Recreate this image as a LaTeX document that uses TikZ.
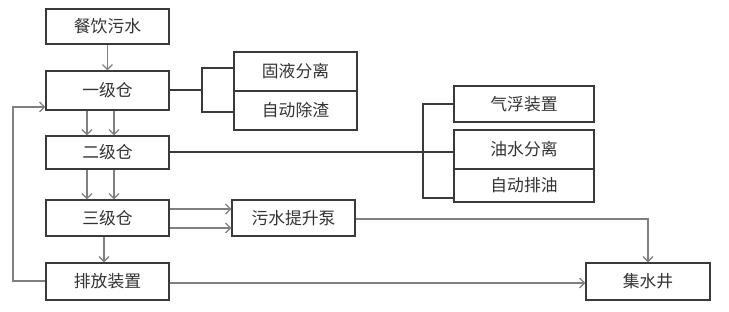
\documentclass[tikz,border=0pt]{standalone}
\usepackage{fontspec}
\setmainfont{Noto Sans CJK SC}
\usetikzlibrary{arrows.meta}
\definecolor{boxc}{HTML}{3A3A3A}
\definecolor{linec}{HTML}{808080}
\definecolor{txt}{HTML}{333333}
\begin{document}
\begin{tikzpicture}[x=1pt,y=-1pt,
  box/.style={draw=boxc,line width=1.2pt,fill=white,text=txt,inner sep=0pt,font=\fontsize{16.8}{16.8}\selectfont},
  conn/.style={draw=linec,line width=1.2pt},
  arr/.style={conn,-{Straight Barb[length=5pt,width=10pt,line width=1.2pt]}}]
\useasboundingbox (0,0) rectangle (729,312);
\fill[white] (0,0) rectangle (729,312);
% boxes
\newcommand{\mybox}[6]{\node[box,minimum width=#4-#2,minimum height=#5-#3] (#1) at ({(#2+#4)/2},{(#3+#5)/2}) {#6};}
\mybox{cy}{46}{9}{169}{44}{餐饮污水}
\mybox{c1}{46}{71}{169}{110}{一级仓}
\mybox{c2}{46}{136}{169}{169}{二级仓}
\mybox{c3}{46}{200}{169}{236}{三级仓}
\mybox{pf}{46}{263}{169}{300}{排放装置}
\mybox{gy}{234}{52}{357}{91}{固液分离}
\mybox{zc}{234}{91}{357}{130}{自动除渣}
\mybox{qf}{454}{86}{594}{122}{气浮装置}
\mybox{ys}{454}{130}{594}{169}{油水分离}
\mybox{zy}{454}{169}{594}{202}{自动排油}
\mybox{ws}{232}{200}{355}{236}{污水提升泵}
\mybox{js}{586}{263}{710}{300}{集水井}
% coordinates
\coordinate (b1) at (202,90);
\coordinate (b2) at (423,152);
\coordinate (lp) at (13,281);
\coordinate (tp) at (648,219);
% connectors
\draw[arr] (cy.south) -- (c1.north);
\draw[arr] (c1.south -| 87,0) -- (c2.north -| 87,0);
\draw[arr] (c1.south -| 114,0) -- (c2.north -| 114,0);
\draw[arr] (c2.south -| 87,0) -- (c3.north -| 87,0);
\draw[arr] (c2.south -| 114,0) -- (c3.north -| 114,0);
\draw[arr] (c3.south -| 104,0) -- (pf.north -| 104,0);
\draw[arr] (c3.east |- 0,209) -- (ws.west |- 0,209);
\draw[arr] (c3.east |- 0,228) -- (ws.west |- 0,228);
\draw[arr] (pf.west |- lp) -- (lp) |- (c1.west |- 0,107);
\draw[arr] (pf.east |- 0,283) -- (js.west |- 0,283);
\draw[arr] (ws.east |- tp) -- (tp) -- (js.north -| tp);
% brackets
\draw[conn,draw=boxc] (c1.east |- b1) -- (b1);
\draw[conn,draw=boxc] (gy.west |- 0,68) -| (b1) |- (zc.west |- 0,112);
\draw[conn,draw=boxc] (c2.east |- b2) -- (ys.west |- b2);
\draw[conn,draw=boxc] (qf.west |- 0,104) -| (b2) |- (zy.west |- 0,198);
\end{tikzpicture}
\end{document}
